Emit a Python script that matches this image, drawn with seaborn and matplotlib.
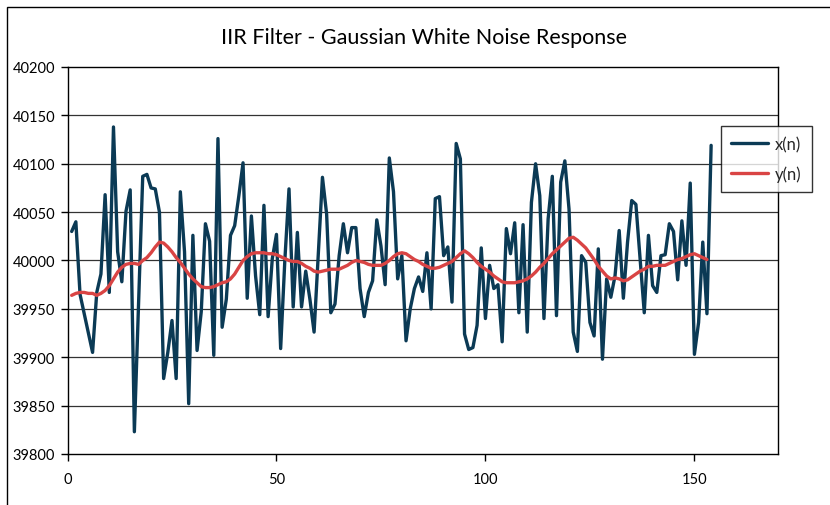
import numpy as np
import pandas as pd
import matplotlib
matplotlib.use("Agg")
import matplotlib.pyplot as plt
import seaborn as sns
from matplotlib.patches import Rectangle

title = "IIR Filter - Gaussian White Noise Response"
series_names = ["x(n)", "y(n)"]

x_vals = [40030, 40040, 39965, 39945, 39925, 39905, 39967, 39986, 40068, 39967,
          40138, 40009, 39978, 40051, 40073, 39823, 39955, 40087, 40089, 40075,
          40074, 40050, 39878, 39905, 39938, 39878, 40071, 40009, 39852, 40026,
          39907, 39947, 40038, 40020, 39902, 40126, 39931, 39960, 40026, 40036,
          40067, 40101, 39961, 40046, 39984, 39944, 40057, 39942, 40002, 40027,
          39909, 40000, 40074, 39952, 40029, 39952, 39989, 39960, 39926, 40005,
          40086, 40048, 39946, 39955, 40005, 40038, 40008, 40034, 40034, 39971,
          39942, 39967, 39979, 40042, 40015, 39975, 40106, 40071, 39981, 40005,
          39917, 39950, 39971, 39983, 39968, 40008, 39950, 40064, 40066, 40005,
          40014, 39957, 40121, 40105, 39924, 39908, 39910, 39933, 40013, 39940,
          39995, 39971, 39975, 39916, 40033, 40007, 40039, 39946, 40037, 39926,
          40060, 40100, 40067, 39940, 40043, 40087, 39943, 40081, 40103, 40053,
          39926, 39906, 40005, 39998, 39936, 39922, 40012, 39898, 39981, 39962,
          39984, 40031, 39961, 40019, 40062, 40058, 40002, 39946, 40026, 39974,
          39967, 40005, 40006, 40038, 40030, 39980, 40041, 39995, 40080, 39903,
          39936, 40019, 39945, 40119]

y_vals = [39964, 39966, 39967, 39967, 39966, 39966, 39964, 39966, 39969, 39974,
          39981, 39988, 39993, 39996, 39997, 39997, 39996, 40000, 40003, 40008,
          40014, 40019, 40018, 40014, 40009, 40003, 39998, 39992, 39986, 39981,
          39977, 39973, 39972, 39972, 39973, 39975, 39977, 39978, 39981, 39986,
          39993, 40000, 40004, 40007, 40008, 40008, 40008, 40007, 40007, 40006,
          40004, 40002, 40000, 39999, 39999, 39997, 39994, 39992, 39989, 39988,
          39989, 39990, 39991, 39991, 39991, 39993, 39995, 39998, 40000, 39999,
          39998, 39996, 39995, 39995, 39995, 39997, 40000, 40004, 40007, 40008,
          40007, 40004, 40001, 39999, 39996, 39994, 39992, 39992, 39993, 39995,
          39997, 39999, 40003, 40007, 40010, 40007, 40003, 39998, 39994, 39991,
          39988, 39984, 39981, 39978, 39977, 39977, 39977, 39978, 39979, 39981,
          39984, 39988, 39993, 39997, 40002, 40007, 40011, 40015, 40019, 40023,
          40024, 40021, 40017, 40013, 40007, 40001, 39994, 39989, 39984, 39981,
          39982, 39981, 39979, 39980, 39983, 39986, 39989, 39991, 39994, 39994,
          39995, 39995, 39995, 39997, 39999, 40001, 40002, 40004, 40006, 40007,
          40005, 40003, 40001]

n_x = list(range(1, len(x_vals) + 1))
n_y = list(range(1, len(y_vals) + 1))

y_ticks = [39800, 39850, 39900, 39950, 40000, 40050, 40100, 40150, 40200]
x_ticks = [0, 50, 100, 150]

sns.set_theme(style="white")
plt.rcParams['font.family'] = ['Lato', 'DejaVu Sans']

fig = plt.figure(figsize=(8.3, 5.06), dpi=100)
W, H = 830, 506
ax = fig.add_axes([67.5 / W, 1 - 455 / H, (778 - 67.5) / W, (455 - 68) / H])

# chart-area border
fig.patches.append(Rectangle((7 / W, -0.1), 1.2, 1 - 8 / H + 0.1, transform=fig.transFigure,
                             fill=False, edgecolor='black', linewidth=1.0, zorder=0))

df_x = pd.DataFrame({"n": n_x, "val": x_vals})
df_y = pd.DataFrame({"n": n_y, "val": y_vals})

for yt in y_ticks[1:-1]:
    ax.axhline(yt, color='#333333', linewidth=0.9, zorder=1)

sns.lineplot(data=df_x, x="n", y="val", ax=ax, color='#0b3a55', linewidth=2.4,
             label=series_names[0], zorder=3)
sns.lineplot(data=df_y, x="n", y="val", ax=ax, color='#d94444', linewidth=2.4,
             label=series_names[1], zorder=4)

ax.set_xlim(0, 170)
ax.set_ylim(39800, 40200)
ax.set_xticks(x_ticks)
ax.set_yticks(y_ticks)
ax.set_xticklabels([str(t) for t in x_ticks], fontsize=10.5)
ax.set_yticklabels([str(t) for t in y_ticks], fontsize=10.5)
ax.set_xlabel("")
ax.set_ylabel("")
ax.tick_params(axis='both', direction='out', length=5, width=1, color='black',
               left=True, bottom=True, pad=4, labelcolor='black')
ax.tick_params(axis='x', pad=8)
for s in ax.spines.values():
    s.set_color('black')
    s.set_linewidth(1.0)
    s.set_visible(True)

fig.text(424 / W, 1 - 38 / H, title, ha='center', va='center', fontsize=15.5, color='black')

leg = ax.legend(loc='upper left', bbox_to_anchor=(721 / W, 1 - 127 / H),
                bbox_transform=fig.transFigure, frameon=True, fancybox=False,
                edgecolor='black', fontsize=12, handlelength=2.2, handletextpad=0.45,
                borderpad=0.6, labelspacing=0.8, borderaxespad=0)
leg.get_frame().set_linewidth(1.0)

fig.savefig("out.png", dpi=100)
